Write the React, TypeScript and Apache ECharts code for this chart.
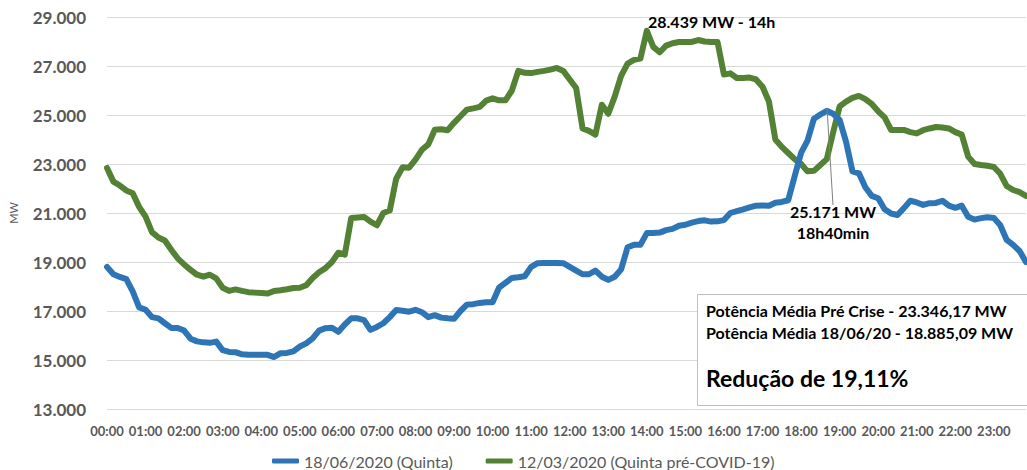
import React, { useEffect, useRef } from "react";
import * as echarts from "echarts";

// 10-minute time slots 00:00 .. 23:50
const times: string[] = [];
for (let h = 0; h < 24; h++) {
  for (let m = 0; m < 60; m += 10) {
    times.push(`${String(h).padStart(2, "0")}:${String(m).padStart(2, "0")}`);
  }
}

const seriesNames = ["18/06/2020 (Quinta)", "12/03/2020 (Quinta pré-COVID-19)"];

const june18: number[] = [
  18800, 18500, 18390, 18300, 17800, 17150, 17050, 16750, 16700, 16500, 16310, 16310,
  16200, 15870, 15760, 15720, 15700, 15750, 15400, 15330, 15320, 15230, 15210, 15210,
  15210, 15210, 15120, 15280, 15290, 15350, 15550, 15680, 15880, 16200, 16300, 16320,
  16150, 16450, 16700, 16700, 16630, 16230, 16350, 16500, 16750, 17040, 17010, 16970,
  17050, 16950, 16750, 16830, 16730, 16700, 16680, 17000, 17260, 17280, 17330, 17360,
  17360, 17950, 18150, 18350, 18380, 18420, 18800, 18950, 18960, 18960, 18960, 18950,
  18800, 18650, 18500, 18500, 18650, 18400, 18270, 18400, 18700, 19600, 19700, 19700,
  20180, 20180, 20200, 20300, 20350, 20480, 20520, 20610, 20670, 20700, 20650, 20660,
  20710, 21000, 21080, 21150, 21230, 21300, 21310, 21300, 21420, 21450, 21520, 22500,
  23450, 23950, 24850, 25020, 25171, 25050, 24800, 23900, 22700, 22620, 22050, 21700,
  21600, 21150, 20980, 20920, 21200, 21500, 21430, 21330, 21400, 21410, 21500, 21300,
  21210, 21300, 20850, 20730, 20790, 20830, 20800, 20500, 19900, 19700, 19450, 19000,
];

const march12: number[] = [
  22840, 22280, 22120, 21920, 21810, 21250, 20850, 20220, 20000, 19880, 19500, 19150,
  18900, 18680, 18480, 18400, 18480, 18330, 17950, 17820, 17880, 17820, 17770, 17750,
  17730, 17710, 17820, 17850, 17890, 17940, 17950, 18050, 18350, 18580, 18750, 19000,
  19380, 19300, 20800, 20820, 20840, 20650, 20500, 21000, 21100, 22400, 22870, 22850,
  23180, 23580, 23800, 24400, 24420, 24380, 24680, 24950, 25220, 25270, 25330, 25590,
  25680, 25600, 25600, 26000, 26800, 26720, 26710, 26760, 26800, 26850, 26920, 26800,
  26450, 26100, 24450, 24350, 24200, 25420, 25050, 25750, 26600, 27100, 27250, 27300,
  28439, 27780, 27560, 27830, 27930, 27980, 27980, 27980, 28060, 28000, 27980, 27980,
  26650, 26700, 26510, 26510, 26530, 26450, 26150, 25550, 24000, 23700, 23450, 23200,
  23000, 22700, 22720, 22960, 23200, 24300, 25350, 25550, 25700, 25780, 25650, 25450,
  25150, 24900, 24390, 24390, 24390, 24300, 24250, 24380, 24450, 24510, 24490, 24450,
  24300, 24200, 23300, 23000, 22960, 22930, 22880, 22600, 22100, 21940, 21850, 21700,
];

const yMin = 13000;
const yMax = 29000;
const yStep = 2000;

const peakLabel = "28.439 MW - 14h";
const eveningPeakLines = ["25.171 MW", "18h40min"];
const boxLines = [
  "Potência Média Pré Crise - 23.346,17 MW",
  "Potência Média 18/06/20 - 18.885,09 MW",
];
const boxResult = "Redução de 19,11%";

const FONT = "Lato, 'Open Sans', sans-serif";
const BLUE = "#2E75B6";
const GREEN = "#548235";
const GRAY = "#595959";

function fmt(v: number): string {
  return String(Math.round(v)).replace(/\B(?=(\d{3})+(?!\d))/g, ".");
}

export default function App() {
  const ref = useRef<HTMLDivElement>(null);
  useEffect(() => {
    if (!ref.current) return;
    const chart = echarts.init(ref.current, undefined, { renderer: "svg" });
    chart.setOption({
      animation: false,
      backgroundColor: "#ffffff",
      textStyle: { fontFamily: FONT },
      grid: { left: 106, right: 1, top: 17, bottom: 61, containLabel: false },
      legend: {
        left: 272,
        top: 452,
        padding: 0,
        itemWidth: 27,
        itemHeight: 5,
        itemGap: 33,
        icon: "roundRect",
        textStyle: { color: GRAY, fontSize: 16, fontFamily: FONT, lineHeight: 18 },
        data: seriesNames,
      },
      xAxis: {
        type: "category",
        data: times,
        boundaryGap: false,
        axisLine: { show: false },
        axisTick: { show: false },
        splitLine: { show: false },
        axisLabel: {
          interval: 5,
          color: GRAY,
          fontWeight: "bold",
          fontSize: 13,
          margin: 15,
          fontFamily: FONT,
        },
      },
      yAxis: {
        type: "value",
        min: yMin,
        max: yMax,
        interval: yStep,
        name: "MW",
        nameLocation: "middle",
        nameRotate: 90,
        nameGap: 88,
        nameTextStyle: { color: GRAY, fontSize: 11, fontFamily: FONT },
        axisLine: { show: false },
        axisTick: { show: false },
        splitLine: { lineStyle: { color: "#D9D9D9", width: 1 } },
        axisLabel: {
          color: GRAY,
          fontWeight: "bold",
          fontSize: 17,
          margin: 21,
          fontFamily: FONT,
          formatter: (v: number) => fmt(v),
        },
      },
      series: [
        {
          name: seriesNames[0],
          type: "line",
          data: june18,
          showSymbol: false,
          symbol: "none",
          lineStyle: { color: BLUE, width: 6, cap: "round", join: "round" },
          itemStyle: { color: BLUE },
          z: 3,
        },
        {
          name: seriesNames[1],
          type: "line",
          data: march12,
          showSymbol: false,
          symbol: "none",
          lineStyle: { color: GREEN, width: 6, cap: "round", join: "round" },
          itemStyle: { color: GREEN },
          z: 2,
        },
      ],
      graphic: [
        {
          type: "text",
          left: 648,
          top: 13,
          z: 10,
          style: { text: peakLabel, fill: "#000", font: `bold 16px ${FONT}` },
        },
        {
          type: "line",
          z: 10,
          shape: { x1: 827, y1: 108, x2: 833, y2: 205 },
          style: { stroke: "#808080", lineWidth: 1 },
        },
        {
          type: "text",
          x: 833,
          y: 222,
          z: 10,
          style: {
            text: eveningPeakLines.join("\n"),
            fill: "#000",
            font: `bold 16px ${FONT}`,
            align: "center",
            verticalAlign: "middle",
            lineHeight: 21,
          },
        },
        {
          type: "rect",
          z: 20,
          shape: { x: 697.5, y: 294.5, width: 340, height: 111 },
          style: { fill: "#ffffff", stroke: "#BFBFBF", lineWidth: 1 },
        },
        {
          type: "text",
          x: 706,
          y: 310,
          z: 21,
          style: { text: boxLines[0], fill: "#000", font: `bold 16px ${FONT}`, verticalAlign: "middle" },
        },
        {
          type: "text",
          x: 706,
          y: 332,
          z: 21,
          style: { text: boxLines[1], fill: "#000", font: `bold 16px ${FONT}`, verticalAlign: "middle" },
        },
        {
          type: "text",
          x: 706,
          y: 378,
          z: 21,
          style: { text: boxResult, fill: "#000", font: `bold 23px ${FONT}`, verticalAlign: "middle" },
        },
      ],
    });
    return () => chart.dispose();
  }, []);
  return (
    <div
      ref={ref}
      style={{ position: "fixed", left: 0, top: 0, width: 1027, height: 470, background: "#fff" }}
    />
  );
}
